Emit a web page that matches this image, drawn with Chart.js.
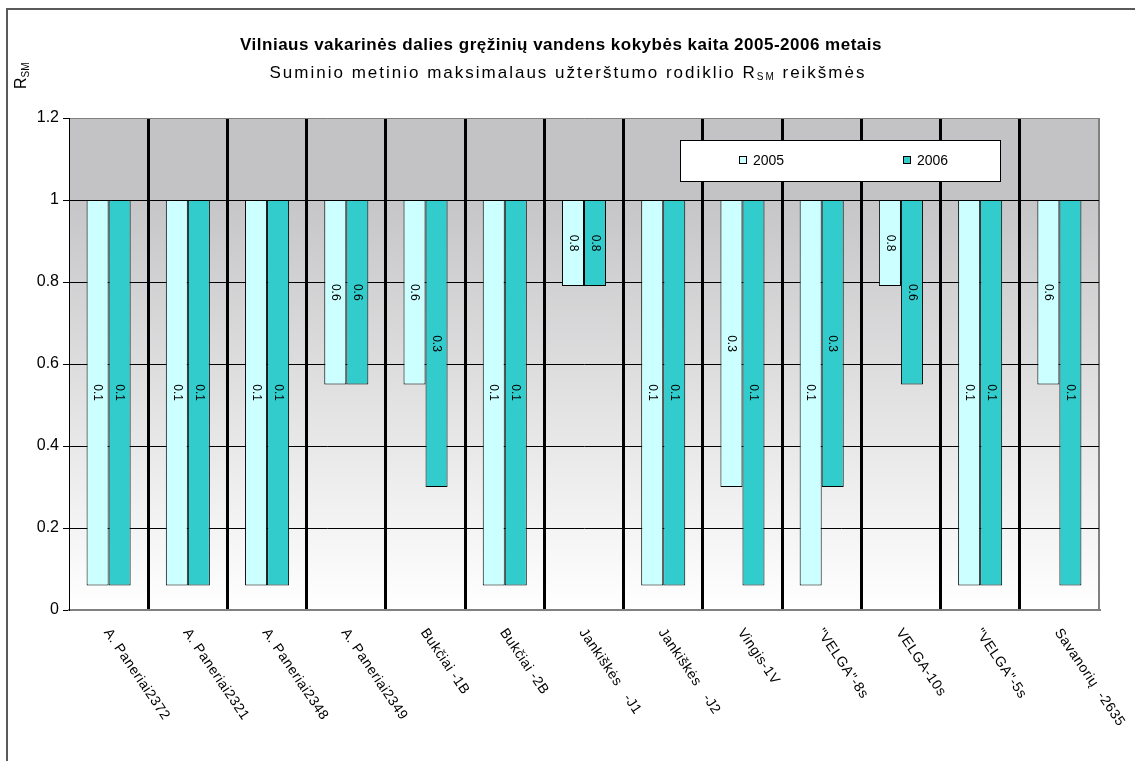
<!DOCTYPE html>
<html>
<head>
<meta charset="utf-8">
<script src="https://cdn.jsdelivr.net/npm/chart.js@4.4.1/dist/chart.umd.min.js"></script>
<style>
  html, body { margin: 0; padding: 0; background: #fff; }
  #wrap { width: 1135px; height: 761px; position: relative; }
</style>
</head>
<body>
<div id="wrap"><canvas id="chart"></canvas></div>
<script>
// Wells (categories)
const wells = [
    'A. Paneriai2372', 'A. Paneriai2321', 'A. Paneriai2348', 'A. Paneriai2349',
    'Bukčiai -1B', 'Bukčiai -2B', 'Jankiškės   -J1', 'Jankiškės   -J2',
    'Vingis-1V', '"VELGA"-8s', 'VELGA-10s', '"VELGA"-5s', 'Savanorių  -2635'
];

// RSM values printed on the bars
const rsm2005 = [0.1, 0.1, 0.1, 0.6, 0.6, 0.1, 0.8, 0.1, 0.3, 0.1, 0.8, 0.1, 0.6];
const rsm2006 = [0.1, 0.1, 0.1, 0.6, 0.3, 0.1, 0.8, 0.1, 0.1, 0.3, 0.6, 0.1, 0.1];

// Where each bar starts on the y axis (bars hang down from 1)
const base2005 = [0.06, 0.06, 0.06, 0.55, 0.55, 0.06, 0.79, 0.06, 0.30, 0.06, 0.79, 0.06, 0.55];
const base2006 = [0.06, 0.06, 0.06, 0.55, 0.30, 0.06, 0.79, 0.06, 0.06, 0.30, 0.55, 0.06, 0.06];
const barTop = 1;

const seriesNames = ['2005', '2006'];
const yMax = 1.2;
const yStep = 0.2;

const FONT = "'Liberation Sans', Arial, sans-serif";
const COLORS = { c2005: '#CCFFFF', c2006: '#33CCCC' };

// Plot background: flat grey band above 1, gradient to white below
const plotBackground = {
    id: 'plotBackground',
    beforeDraw(chart) {
        const { ctx, chartArea: a, scales: { y } } = chart;
        const y1 = y.getPixelForValue(1);
        ctx.save();
        ctx.fillStyle = '#C3C3C5';
        ctx.fillRect(a.left, a.top, a.right - a.left, y1 - a.top);
        const g = ctx.createLinearGradient(0, y1, 0, a.bottom);
        g.addColorStop(0, '#C6C6C8');
        g.addColorStop(1, '#FFFFFF');
        ctx.fillStyle = g;
        ctx.fillRect(a.left, y1, a.right - a.left, a.bottom - y1);
        ctx.restore();
    }
};

// Vertical value labels inside the bars
const barLabels = {
    id: 'barLabels',
    afterDatasetsDraw(chart) {
        const { ctx } = chart;
        const texts = [rsm2005, rsm2006];
        ctx.save();
        ctx.fillStyle = '#000';
        ctx.font = '12px ' + FONT;
        ctx.textAlign = 'center';
        ctx.textBaseline = 'middle';
        chart.data.datasets.forEach((ds, di) => {
            chart.getDatasetMeta(di).data.forEach((el, i) => {
                const yc = (el.y + el.base) / 2;
                ctx.save();
                ctx.translate(el.x, yc);
                ctx.rotate(Math.PI / 2);
                ctx.fillText(String(texts[di][i]), 0, 0);
                ctx.restore();
            });
        });
        ctx.restore();
    }
};

// Frame, titles, axis title, category labels and legend
const decorations = {
    id: 'decorations',
    afterDraw(chart) {
        const { ctx, scales: { x } } = chart;
        ctx.save();

        // outer frame
        ctx.strokeStyle = '#5a5a5a';
        ctx.lineWidth = 2;
        ctx.beginPath();
        ctx.moveTo(1135, 9);
        ctx.lineTo(7, 9);
        ctx.lineTo(7, 761);
        ctx.stroke();

        // title
        ctx.fillStyle = '#000';
        ctx.textBaseline = 'middle';
        ctx.textAlign = 'center';
        ctx.letterSpacing = '0.5px';
        ctx.font = 'bold 17px ' + FONT;
        ctx.fillText('Vilniaus vakarinės dalies gręžinių vandens kokybės kaita 2005-2006 metais', 561, 45);

        // subtitle with subscript
        const p1 = 'Suminio metinio maksimalaus užterštumo rodiklio R';
        const sub = 'SM';
        const p3 = ' reikšmės';
        const big = '17px ' + FONT, small = '10px ' + FONT;
        ctx.letterSpacing = '2px';
        ctx.font = big;
        const w1 = ctx.measureText(p1).width, w3 = ctx.measureText(p3).width;
        ctx.font = small;
        const w2 = ctx.measureText(sub).width;
        let sx = 568 - (w1 + w2 + w3) / 2;
        ctx.textAlign = 'left';
        ctx.font = big;
        ctx.fillText(p1, sx, 73);
        ctx.font = small;
        ctx.fillText(sub, sx + w1, 77);
        ctx.font = big;
        ctx.fillText(p3, sx + w1 + w2, 73);
        ctx.letterSpacing = '0px';

        // y axis title R_SM
        ctx.save();
        ctx.translate(22, 89);
        ctx.rotate(-Math.PI / 2);
        ctx.textAlign = 'left';
        ctx.font = '16px ' + FONT;
        ctx.fillText('R', 0, 0);
        const rw = ctx.measureText('R').width;
        ctx.font = '10px ' + FONT;
        ctx.fillText('SM', rw, 4);
        ctx.restore();

        // category labels, slanted down to the right
        ctx.font = '14px ' + FONT;
        ctx.letterSpacing = '0.5px';
        ctx.textAlign = 'left';
        ctx.textBaseline = 'middle';
        wells.forEach((name, i) => {
            const px = x.getPixelForValue(i);
            ctx.save();
            ctx.translate(px - 2, 630);
            ctx.rotate(56 * Math.PI / 180);
            ctx.fillText(name, 0, 0);
            ctx.restore();
        });
        ctx.letterSpacing = '0px';

        // legend box
        ctx.fillStyle = '#fff';
        ctx.fillRect(680, 140, 320, 41);
        ctx.strokeStyle = '#000';
        ctx.lineWidth = 1;
        ctx.strokeRect(680.5, 140.5, 320, 41);
        const items = [
            { label: seriesNames[0], color: COLORS.c2005, x: 739 },
            { label: seriesNames[1], color: COLORS.c2006, x: 903 }
        ];
        ctx.font = '14px ' + FONT;
        items.forEach(it => {
            ctx.fillStyle = it.color;
            ctx.fillRect(it.x, 156, 8, 8);
            ctx.strokeRect(it.x + 0.5, 156.5, 7, 7);
            ctx.fillStyle = '#000';
            ctx.fillText(it.label, it.x + 14, 161);
        });

        ctx.restore();
    }
};

const chart = new Chart(document.getElementById('chart'), {
    type: 'bar',
    data: {
        labels: wells,
        datasets: [
            {
                label: seriesNames[0],
                data: base2005.map(b => [b, barTop]),
                backgroundColor: COLORS.c2005,
                borderColor: '#000',
                borderWidth: 1,
                borderSkipped: false
            },
            {
                label: seriesNames[1],
                data: base2006.map(b => [b, barTop]),
                backgroundColor: COLORS.c2006,
                borderColor: '#000',
                borderWidth: 1,
                borderSkipped: false
            }
        ]
    },
    options: {
        responsive: true,
        maintainAspectRatio: false,
        animation: false,
        devicePixelRatio: 1,
        categoryPercentage: 0.556,
        barPercentage: 1,
        layout: { padding: { top: 118, right: 36, bottom: 0, left: 0 } },
        scales: {
            x: {
                ticks: { display: false },
                grid: {
                    offset: true,
                    drawTicks: false,
                    color: ctx => ctx.index === 0 ? 'rgba(0,0,0,0)' : (ctx.type === 'scale' ? '#808080' : '#000'),
                    lineWidth: ctx => ctx.type === 'scale' ? 2 : 3
                },
                border: { display: true, color: '#808080', width: 2 },
                afterFit: s => { s.height = 151; }
            },
            y: {
                min: 0,
                max: yMax,
                ticks: {
                    stepSize: yStep,
                    color: '#000',
                    font: { family: FONT, size: 16 },
                    padding: 4,
                    callback: v => String(Math.round(v * 10) / 10)
                },
                grid: {
                    color: ctx => (ctx.index === 6 || ctx.index === 0) ? '#808080' : '#000',
                    lineWidth: 1,
                    tickLength: 6,
                    tickColor: '#000'
                },
                border: { display: true, color: '#000', width: 1 },
                afterFit: s => { s.width = 69; }
            }
        },
        plugins: {
            legend: { display: false },
            title: { display: false },
            tooltip: { enabled: false }
        }
    },
    plugins: [plotBackground, barLabels, decorations]
});
</script>
</body>
</html>
